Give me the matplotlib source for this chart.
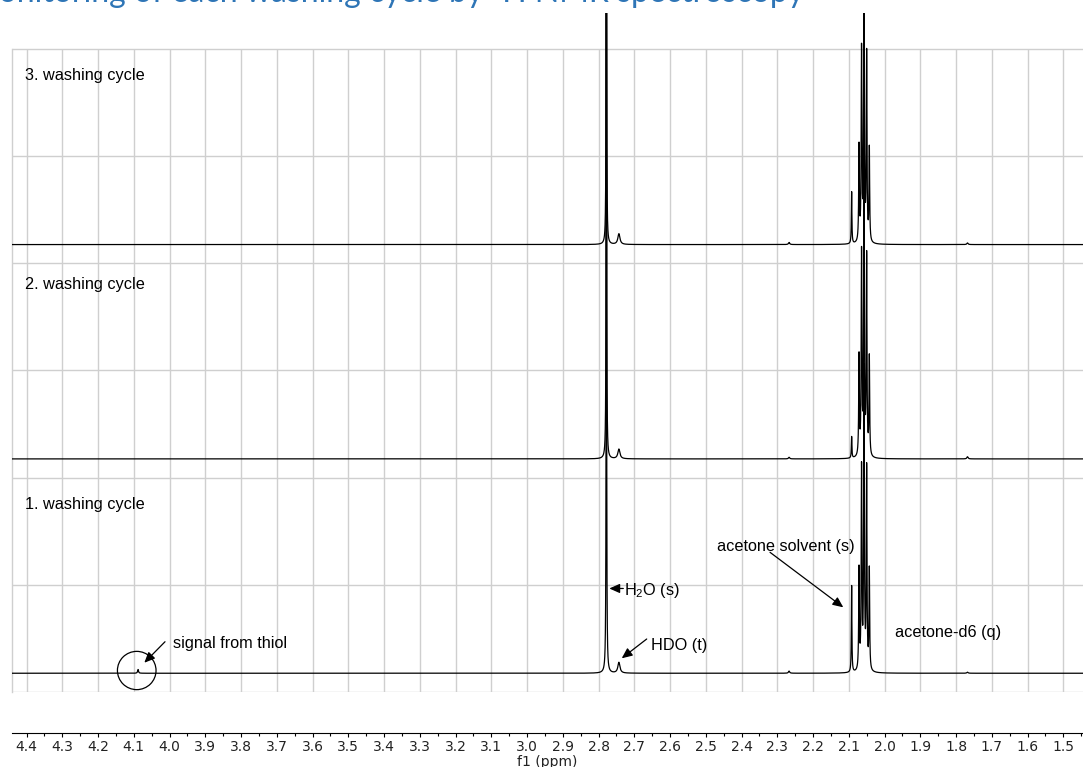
import numpy as np
import matplotlib.pyplot as plt
from matplotlib.patches import Ellipse
from matplotlib.ticker import MultipleLocator, FormatStrFormatter

plt.rcParams['mathtext.default'] = 'regular'

#==============================================================================
# data (heights in units of one grid row)
#==============================================================================
peak_ppm = [4.088, 2.778, 2.743, 2.267, 2.092,
            2.0713, 2.0643, 2.0573, 2.0500, 2.0425, 1.768]
peak_hw = [0.0015, 0.0006, 0.0035, 0.002, 0.0009,
           0.0011, 0.0011, 0.0011, 0.0011, 0.0011, 0.002]

cycle1 = [0.035, 9.0, 0.10, 0.02, 0.81, 0.94, 1.87, 2.80, 1.87, 0.94, 0.01]
cycle2 = [0.0, 8.0, 0.09, 0.015, 0.20, 0.93, 1.88, 2.80, 1.85, 0.92, 0.02]
cycle3 = [0.0, 7.0, 0.10, 0.02, 0.485, 0.89, 1.78, 2.70, 1.74, 0.87, 0.015]

cycles = [cycle1, cycle2, cycle3]
cycle_labels = ['1. washing cycle', '2. washing cycle', '3. washing cycle']
offsets = [0.175, 2.175, 4.175]
label_y = [1.745, 3.807, 5.757]

title = 'Monitoring of each washing cycle by \u00b9H NMR spectroscopy'

ppm = np.linspace(4.45, 1.44, 30001)


def spectrum(heights):
    """Sum of lorentzian lines for one washing cycle."""
    y = np.zeros_like(ppm)
    for c, w, h in zip(peak_ppm, peak_hw, heights):
        y += h * w**2 / ((ppm - c)**2 + w**2)
    return y


#==============================================================================
# figure
#==============================================================================
W, H = 1083, 767
fig = plt.figure(figsize=(W / 100, H / 100), dpi=100)
ax = fig.add_axes([12 / W, 75 / H, 1 - 12 / W, 679 / H])

x_left, x_right = 4.4406, 1.4448
ax.set_xlim(x_left, x_right)
ax.set_ylim(0, 679 / 107.17)

ax.xaxis.set_major_locator(MultipleLocator(0.1))
ax.xaxis.set_minor_locator(MultipleLocator(0.05))
ax.xaxis.set_major_formatter(FormatStrFormatter('%.1f'))
ax.set_yticks([])

# background table grid
grid_c = '#cfcfcf'
ticks = [t for t in ax.xaxis.get_majorticklocs() if x_right <= t <= x_left]
ax.vlines(ticks, 0, 6, color=grid_c, lw=1.0, zorder=0)
ax.hlines(np.arange(7), x_left, x_right, color=grid_c, lw=1.0, zorder=0)

for s in ['top', 'right']:
    ax.spines[s].set_visible(False)
ax.spines['left'].set_bounds(0, 6)
ax.spines['left'].set_color(grid_c)
ax.spines['left'].set_linewidth(1.0)
ax.spines['bottom'].set_position(('outward', 29.5))
ax.spines['bottom'].set_linewidth(0.8)

ax.tick_params(axis='x', which='major', direction='out', length=3, width=0.8,
               pad=2, labelsize=10, labelcolor='#222222')
ax.tick_params(axis='x', which='minor', direction='out', length=1.8, width=0.8)
ax.set_xlabel('f1 (ppm)', fontsize=10, labelpad=0.5, color='#222222')

# spectra
for heights, off in zip(cycles, offsets):
    ax.plot(ppm, spectrum(heights) + off, color='black', lw=0.9, zorder=3)

txt = dict(family='Liberation Sans', fontsize=11.7, color='black')
for lab, yy in zip(cycle_labels, label_y):
    ax.text(4.404, yy, lab, ha='left', va='center', **txt)

arrow = dict(arrowstyle='-|>,head_length=0.45,head_width=0.2', color='black',
             lw=0.9, shrinkA=0, shrinkB=0, mutation_scale=14)

# annotations of trace 1
ax.text(2.7287, 0.905, 'H$_2$O (s)', ha='left', va='baseline', **txt)
ax.annotate('', xy=(2.7698, 0.966), xytext=(2.7306, 0.966), arrowprops=arrow)

ax.text(2.6531, 0.392, 'HDO (t)', ha='left', va='baseline', **txt)
ax.annotate('', xy=(2.7351, 0.3145), xytext=(2.6652, 0.4945), arrowprops=arrow)

ax.text(3.991, 0.407, 'signal from thiol', ha='left', va='baseline', **txt)
ax.annotate('', xy=(4.0705, 0.273), xytext=(4.0126, 0.469), arrowprops=arrow)
ax.add_patch(Ellipse((4.0917, 0.2006), 0.108, 0.357, fill=False,
                     edgecolor='black', lw=0.9, zorder=4))

ax.text(2.4694, 1.3157, 'acetone solvent (s)', ha='left', va='baseline', **txt)
ax.annotate('', xy=(2.1153, 0.790), xytext=(2.3203, 1.3035), arrowprops=arrow)

ax.text(1.9706, 0.513, 'acetone-d6 (q)', ha='left', va='baseline', **txt)

# slide title, cut at the top and left of the picture
r = fig.canvas.get_renderer()
tmp = fig.text(0, 0, 'M', family='Lato', fontsize=23)
wM = tmp.get_window_extent(r).width
tmp.remove()
fig.text(-(wM + 1) / W, 1 - 2.5 / H, title, family='Lato', fontsize=23,
         color='#2E75B6', ha='left', va='baseline')

fig.savefig('out.png', dpi=100)
